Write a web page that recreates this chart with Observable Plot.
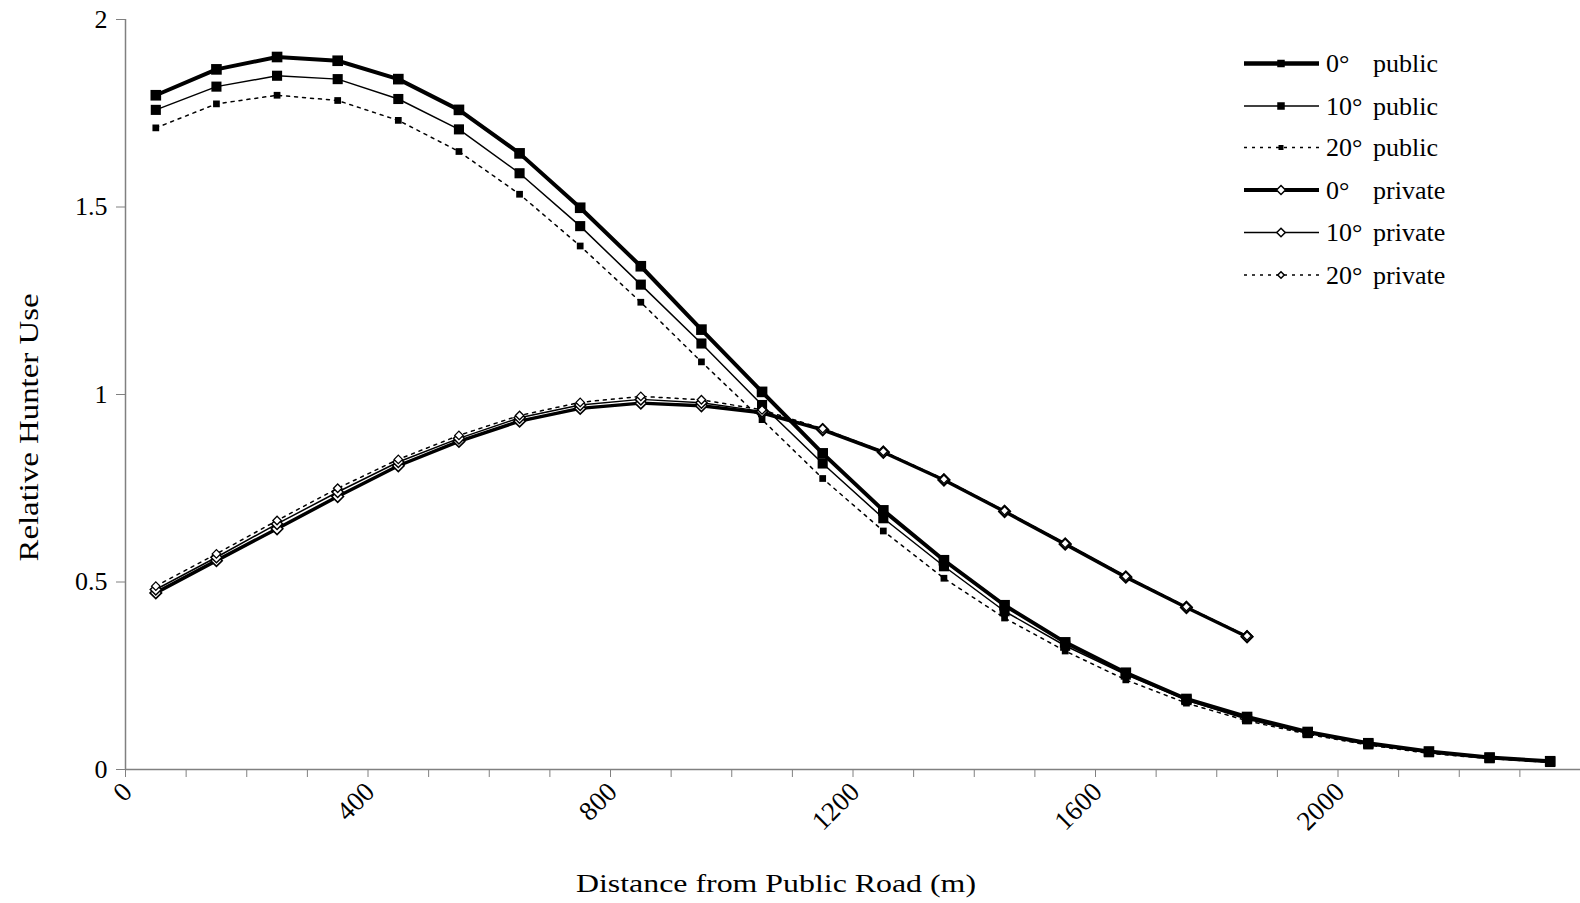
<!DOCTYPE html>
<html>
<head>
<meta charset="utf-8">
<script src="https://cdn.jsdelivr.net/npm/d3@7"></script>
<script src="https://cdn.jsdelivr.net/npm/@observablehq/plot@0.6"></script>
<style>
  html, body { margin: 0; padding: 0; background: #fff; }
  #wrap { position: relative; width: 1580px; height: 903px; font-family: "Liberation Serif", "Times New Roman", serif; }
  #legend { position: absolute; left: 0; top: 0; pointer-events: none; }
</style>
</head>
<body>
<div id="wrap"></div>
<script>
// ---- Data ----
const distPublic = [50, 150, 250, 350, 450, 550, 650, 750, 850, 950, 1050, 1150, 1250, 1350, 1450, 1550, 1650, 1750, 1850, 1950, 2050, 2150, 2250, 2350];
const distPrivate = [50, 150, 250, 350, 450, 550, 650, 750, 850, 950, 1050, 1150, 1250, 1350, 1450, 1550, 1650, 1750, 1850];

const public0  = [1.798, 1.867, 1.900, 1.890, 1.841, 1.759, 1.643, 1.498, 1.342, 1.173, 1.007, 0.843, 0.691, 0.558, 0.438, 0.339, 0.258, 0.188, 0.140, 0.100, 0.070, 0.048, 0.032, 0.022];
const public10 = [1.759, 1.821, 1.850, 1.841, 1.788, 1.707, 1.590, 1.449, 1.293, 1.136, 0.972, 0.816, 0.670, 0.542, 0.422, 0.330, 0.253, 0.185, 0.134, 0.097, 0.067, 0.046, 0.030, 0.020];
const public20 = [1.711, 1.775, 1.798, 1.784, 1.731, 1.648, 1.534, 1.396, 1.246, 1.087, 0.933, 0.776, 0.636, 0.510, 0.404, 0.316, 0.239, 0.177, 0.130, 0.094, 0.065, 0.043, 0.029, 0.019];

const private0  = [0.471, 0.557, 0.642, 0.728, 0.810, 0.875, 0.929, 0.963, 0.977, 0.970, 0.951, 0.906, 0.846, 0.772, 0.688, 0.601, 0.513, 0.432, 0.354];
const private10 = [0.480, 0.566, 0.655, 0.740, 0.820, 0.883, 0.938, 0.972, 0.987, 0.978, 0.955, 0.907, 0.847, 0.773, 0.689, 0.602, 0.514, 0.433, 0.355];
const private20 = [0.489, 0.575, 0.664, 0.750, 0.827, 0.891, 0.944, 0.979, 0.995, 0.986, 0.959, 0.909, 0.848, 0.774, 0.690, 0.603, 0.515, 0.434, 0.356];

const seriesNames = ["0° public", "10° public", "20° public", "0° private", "10° private", "20° private"];
const yTicks = [0, 0.5, 1, 1.5, 2];
const xTickLabels = [0, 400, 800, 1200, 1600, 2000];
const xMinorTicks = d3.range(0, 2400, 100);
const xTitle = "Distance from Public Road (m)";
const yTitle = "Relative Hunter Use";

// ---- Styles per series ----
const styles = {
  "0° public":   {sw: 4,   dash: null,  symbol: "square",   r: 6.0, fill: "black", dotSW: 0},
  "10° public":  {sw: 1.5, dash: null,  symbol: "square",   r: 5.7, fill: "black", dotSW: 0},
  "20° public":  {sw: 1.5, dash: "3,5", symbol: "square",   r: 3.8, fill: "black", dotSW: 0},
  "0° private":  {sw: 3.5, dash: null,  symbol: "diamond2", r: 5.2, fill: "white", dotSW: 1.6},
  "10° private": {sw: 1.5, dash: null,  symbol: "diamond2", r: 5.0, fill: "white", dotSW: 1.5},
  "20° private": {sw: 1.5, dash: "3,5", symbol: "diamond2", r: 3.8, fill: "white", dotSW: 1.3}
};

const seriesData = {
  "0° public":   distPublic.map((d, i) => ({x: d, y: public0[i]})),
  "10° public":  distPublic.map((d, i) => ({x: d, y: public10[i]})),
  "20° public":  distPublic.map((d, i) => ({x: d, y: public20[i]})),
  "0° private":  distPrivate.map((d, i) => ({x: d, y: private0[i]})),
  "10° private": distPrivate.map((d, i) => ({x: d, y: private10[i]})),
  "20° private": distPrivate.map((d, i) => ({x: d, y: private20[i]}))
};

const axisGray = "#808080";
const seriesMarks = seriesNames.flatMap(name => {
  const s = styles[name];
  const data = seriesData[name];
  return [
    Plot.line(data, {x: "x", y: "y", stroke: "black", strokeWidth: s.sw, strokeDasharray: s.dash, strokeLinejoin: "miter"}),
    Plot.dot(data, {x: "x", y: "y", symbol: s.symbol, r: s.r, fill: s.fill, stroke: "black", strokeWidth: s.dotSW})
  ];
});

const chart = Plot.plot({
  width: 1580,
  height: 903,
  marginLeft: 125,
  marginRight: 0,
  marginTop: 19,
  marginBottom: 134,
  style: {fontFamily: "'Liberation Serif', 'Times New Roman', serif", fontSize: "25px", background: "white", color: "black"},
  x: {domain: [0, 2400], axis: null},
  y: {domain: [0, 2], axis: null},
  marks: [
    Plot.axisY({ticks: yTicks, tickFormat: d => String(d), tickSize: 9, tickPadding: 9, stroke: axisGray, fontSize: 26, label: null}),
    Plot.axisX({ticks: xMinorTicks, tickFormat: () => "", tickSize: 8, stroke: axisGray, label: null}),
    Plot.ruleX([0], {y1: 0, y2: 2, stroke: axisGray, strokeWidth: 1.5}),
    Plot.ruleY([0], {x1: 0, x2: 2400, stroke: axisGray, strokeWidth: 1.5}),
    Plot.text(xTickLabels, {x: d => d, text: d => String(d), frameAnchor: "bottom", rotate: -45, textAnchor: "end", lineAnchor: "bottom", dx: 8, dy: 24, fontSize: 27, fill: "black"}),
    Plot.text([xTitle], {text: d => d, frameAnchor: "bottom", textAnchor: "middle", lineAnchor: "bottom", dx: -77, dy: 122, fontSize: 26, fill: "black"}),
    Plot.text([yTitle], {text: d => d, frameAnchor: "left", textAnchor: "middle", rotate: -90, lineAnchor: "bottom", dx: -88, dy: 33, fontSize: 27, fill: "black"}),
    ...seriesMarks
  ]
});

document.getElementById("wrap").appendChild(chart);

// stretch the axis titles horizontally like the reference
d3.select(chart).selectAll("text").each(function() {
  const t = this.textContent;
  if (t === xTitle) { this.setAttribute("textLength", 400); this.setAttribute("lengthAdjust", "spacingAndGlyphs"); }
  if (t === yTitle) { this.setAttribute("textLength", 268); this.setAttribute("lengthAdjust", "spacingAndGlyphs"); }
});

// ---- Legend (top right) ----
const legend = d3.select("#wrap").append("svg")
  .attr("id", "legend")
  .attr("width", 1580).attr("height", 903);
const legendRowsY = [63.5, 106, 147.5, 190, 232.5, 275];
const legendSymbolSize = {"0° public": 7.5, "10° public": 7.5, "20° public": 5, "0° private": 9, "10° private": 8.5, "20° private": 6.5};
seriesNames.forEach((name, i) => {
  const s = styles[name];
  const y = legendRowsY[i];
  const g = legend.append("g").attr("transform", `translate(0,${y})`);
  g.append("line").attr("x1", 1244).attr("x2", 1319).attr("y1", 0).attr("y2", 0)
    .attr("stroke", "black").attr("stroke-width", i === 0 ? 4.5 : (i === 3 ? 4 : s.sw))
    .attr("stroke-dasharray", s.dash ? "3,5" : null);
  const sz = legendSymbolSize[name];
  if (s.symbol === "square") {
    g.append("rect").attr("x", 1281 - sz / 2).attr("y", -sz / 2).attr("width", sz).attr("height", sz).attr("fill", "black");
  } else {
    const h = sz / 2;
    g.append("path").attr("d", `M${1281},${-h}L${1281 + h},0L${1281},${h}L${1281 - h},0Z`)
      .attr("fill", "white").attr("stroke", "black").attr("stroke-width", 1.5);
  }
  const [deg, word] = name.split(" ");
  g.append("text").attr("x", 1326).attr("y", 0).attr("dy", "0.33em")
    .attr("font-family", "'Liberation Serif', 'Times New Roman', serif").attr("font-size", 26).attr("fill", "black").text(deg);
  g.append("text").attr("x", 1373).attr("y", 0).attr("dy", "0.33em")
    .attr("font-family", "'Liberation Serif', 'Times New Roman', serif").attr("font-size", 26).attr("fill", "black").text(word);
});
</script>
</body>
</html>
